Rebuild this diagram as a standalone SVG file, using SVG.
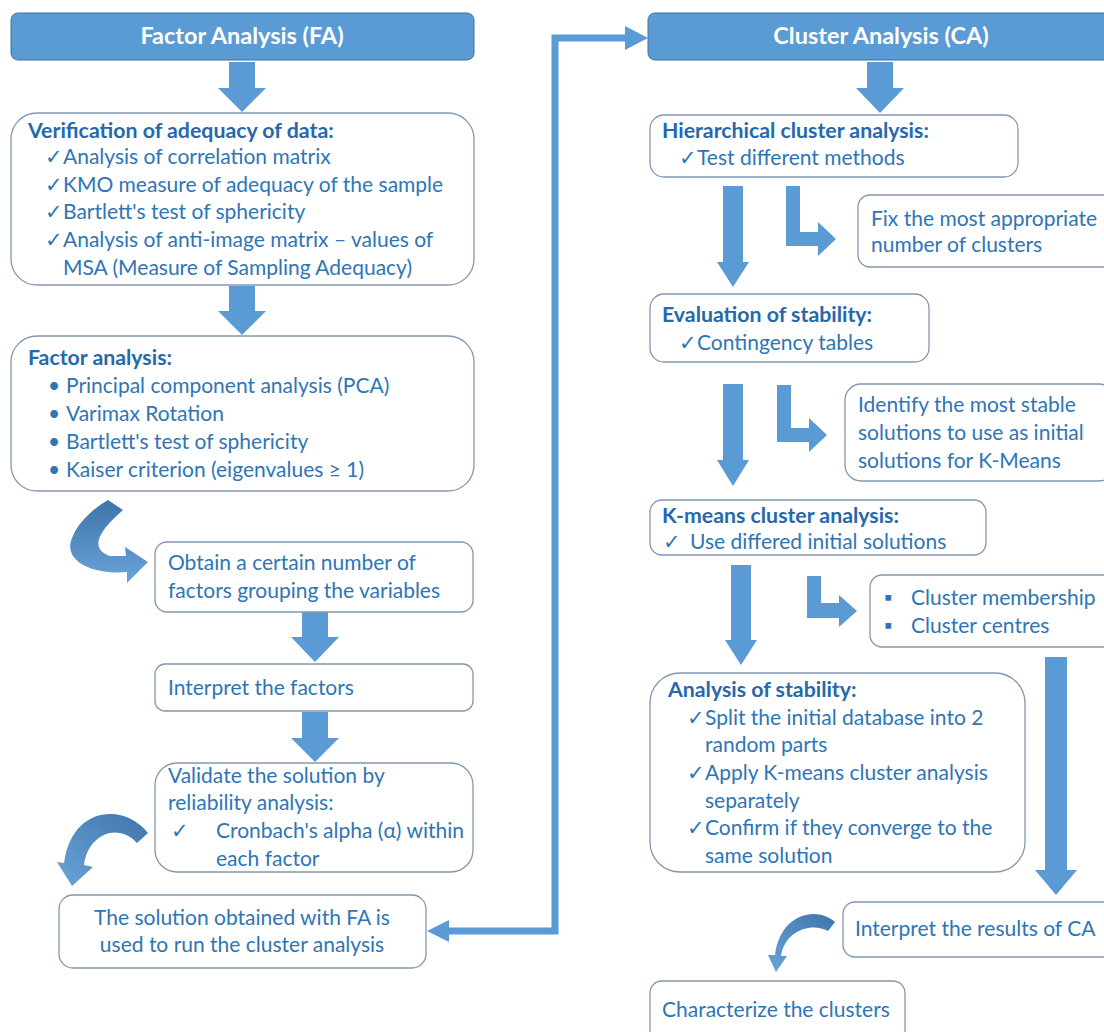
<svg xmlns="http://www.w3.org/2000/svg" width="1104" height="1032" viewBox="0 0 1104 1032">
<defs>
<style>
.hdr{fill:#5B9BD5;stroke:#41719C;stroke-width:1}
.hdt{font-family:Lato,'Open Sans',sans-serif;font-weight:bold;font-size:23.5px;fill:#fff;text-anchor:middle}
.box{fill:#fff;stroke:#8497B0;stroke-width:1.3}
.t{font-family:Lato,'DejaVu Sans',sans-serif;font-size:21px;fill:#2E75B6}
.b{font-weight:bold;fill:#2568AC;font-size:21.3px}
.arr{fill:#5B9BD5;stroke:none}
.ln{fill:none;stroke:#5B9BD5;stroke-width:7}
</style>
<linearGradient id="cg" x1="0" y1="0" x2="0" y2="1">
<stop offset="0" stop-color="#3E75AA"/>
<stop offset="1" stop-color="#6AA4DA"/>
</linearGradient>
<linearGradient id="cg2" x1="1" y1="0" x2="0" y2="1">
<stop offset="0" stop-color="#3E75AA"/>
<stop offset="1" stop-color="#6AA4DA"/>
</linearGradient>
</defs>

<g id="connectors">
<path class="arr" d="M229,62 H255 V88 H266 L242,112 L218,88 H229 Z"/>
<path class="arr" d="M229,286 H255 V311 H266 L242,335 L218,311 H229 Z"/>
<path class="arr" d="M302,612 H328 V637 H339 L315,662 L291,637 H302 Z"/>
<path class="arr" d="M302,712 H328 V738 H339 L315,762 L291,738 H302 Z"/>
<path class="arr" d="M867,62 H893 V88 H904 L880,113 L856,88 H867 Z"/>
<path class="arr" d="M723,186 H743 V262 H749 L733,287 L717,262 H723 Z"/>
<path class="arr" d="M723,384 H743 V460 H749 L733,486 L717,460 H723 Z"/>
<path class="arr" d="M731,565 H751 V640 H757 L741,665 L725,640 H731 Z"/>
<path class="arr" d="M1045,657 H1067 V870 H1077 L1056,895 L1035,870 H1045 Z"/>
<path class="arr" d="M786,186 H800 V232 H818 V222 L836,239 L818,256 V246 H786 Z"/>
<path class="arr" d="M777,385 H791 V428 H809 V418 L827,435 L809,452 V442 H777 Z"/>
<path class="arr" d="M807,576 H821 V603 H839 V595 L857,611 L839,627 V618 H807 Z"/>
<path class="ln" d="M449,931 H555 V38 H626"/>
<path class="arr" d="M427,931 L449,920 V942 Z"/>
<path class="arr" d="M648,38 L625,26 V50 Z"/>
<path fill="url(#cg)" d="M108,500 L123,510 C100,530 88,548 110,556 L126,556 L125,547 L148,562 L127,583 L127,572 C95,575 62,562 72,538 C78,522 94,508 108,500 Z"/>
<path fill="url(#cg2)" d="M148,833 C125,803 72,805 64,863 L57,862 L72,886 L93,867 L84,865 C88,834 118,822 137,843 Z"/>
<path fill="url(#cg2)" d="M835,922 C815,905 780,915 775,955 L768,955 L776,972 L787,956 L781,956 C785,930 812,922 828,931 Z"/>
</g>

<g id="fa-header">
<rect class="hdr" x="11" y="13" width="463" height="47" rx="7"/>
<text class="hdt" x="242" y="44">Factor Analysis (FA)</text>
</g>

<g id="ca-header">
<rect class="hdr" x="648" y="13" width="470" height="47" rx="7"/>
<text class="hdt" x="881" y="44">Cluster Analysis (CA)</text>
</g>

<g id="verification">
<rect class="box" x="11" y="113" width="463" height="172" rx="26"/>
<text class="t b" x="28" y="138">Verification of adequacy of data:</text>
<text class="t" x="45" y="164">✓<tspan x="63">Analysis of correlation matrix</tspan></text>
<text class="t" x="45" y="192">✓<tspan x="63">KMO measure of adequacy of the sample</tspan></text>
<text class="t" x="45" y="219">✓<tspan x="63">Bartlett's test of sphericity</tspan></text>
<text class="t" x="45" y="247">✓<tspan x="63">Analysis of anti-image matrix – values of</tspan></text>
<text class="t" x="63" y="275">MSA (Measure of Sampling Adequacy)</text>
</g>

<g id="factor-analysis">
<rect class="box" x="11" y="336" width="463" height="155" rx="26"/>
<text class="t b" x="28" y="365">Factor analysis:</text>
<text class="t" x="48" y="393">•<tspan x="66">Principal component analysis (PCA)</tspan></text>
<text class="t" x="48" y="421">•<tspan x="66">Varimax Rotation</tspan></text>
<text class="t" x="48" y="449">•<tspan x="66">Bartlett's test of sphericity</tspan></text>
<text class="t" x="48" y="477">•<tspan x="66">Kaiser criterion (eigenvalues ≥ 1)</tspan></text>
</g>

<g id="obtain">
<rect class="box" x="155" y="542" width="318" height="70" rx="12"/>
<text class="t" x="168" y="570">Obtain a certain number of</text>
<text class="t" x="168" y="598">factors grouping the variables</text>
</g>

<g id="interpret-factors">
<rect class="box" x="155" y="664" width="318" height="47" rx="10"/>
<text class="t" x="168" y="695">Interpret the factors</text>
</g>

<g id="validate">
<rect class="box" x="155" y="763" width="318" height="109" rx="22"/>
<text class="t" x="168" y="783">Validate the solution by</text>
<text class="t" x="168" y="810">reliability analysis:</text>
<text class="t" x="171" y="838">✓<tspan x="216">Cronbach's alpha (α) within</tspan></text>
<text class="t" x="216" y="866">each factor</text>
</g>

<g id="solution">
<rect class="box" x="59" y="895" width="367" height="73" rx="14"/>
<text class="t" x="242" y="925" text-anchor="middle">The solution obtained with FA is</text>
<text class="t" x="242" y="952" text-anchor="middle">used to run the cluster analysis</text>
</g>

<g id="hierarchical">
<rect class="box" x="650" y="115" width="368" height="62" rx="14"/>
<text class="t b" x="662" y="138">Hierarchical cluster analysis:</text>
<text class="t" x="679" y="165">✓<tspan x="697">Test different methods</tspan></text>
</g>

<g id="fix-clusters">
<rect class="box" x="858" y="195" width="260" height="72" rx="12"/>
<text class="t" x="871" y="226">Fix the most appropriate</text>
<text class="t" x="871" y="252">number of clusters</text>
</g>

<g id="evaluation">
<rect class="box" x="650" y="294" width="279" height="68" rx="14"/>
<text class="t b" x="662" y="322">Evaluation of stability:</text>
<text class="t" x="679" y="350">✓<tspan x="697">Contingency tables</tspan></text>
</g>

<g id="identify">
<rect class="box" x="845" y="384" width="270" height="97" rx="16"/>
<text class="t" x="858" y="412">Identify the most stable</text>
<text class="t" x="858" y="440">solutions to use as initial</text>
<text class="t" x="858" y="468">solutions for K-Means</text>
</g>

<g id="kmeans">
<rect class="box" x="650" y="500" width="336" height="55" rx="12"/>
<text class="t b" x="662" y="523">K-means cluster analysis:</text>
<text class="t" x="663" y="549">✓<tspan x="690">Use differed initial solutions</tspan></text>
</g>

<g id="membership">
<rect class="box" x="870" y="575" width="250" height="72" rx="12"/>
<text class="t" x="884" y="605">▪<tspan x="911">Cluster membership</tspan></text>
<text class="t" x="884" y="633">▪<tspan x="911">Cluster centres</tspan></text>
</g>

<g id="analysis-stability">
<rect class="box" x="650" y="673" width="375" height="199" rx="30"/>
<text class="t b" x="668" y="697">Analysis of stability:</text>
<text class="t" x="687" y="725">✓<tspan x="705">Split the initial database into 2</tspan></text>
<text class="t" x="705" y="752">random parts</text>
<text class="t" x="687" y="780">✓<tspan x="705">Apply K-means cluster analysis</tspan></text>
<text class="t" x="705" y="808">separately</text>
<text class="t" x="687" y="835">✓<tspan x="705">Confirm if they converge to the</tspan></text>
<text class="t" x="705" y="863">same solution</text>
</g>

<g id="interpret-ca">
<rect class="box" x="843" y="902" width="275" height="55" rx="12"/>
<text class="t" x="855" y="936">Interpret the results of CA</text>
</g>

<g id="characterize">
<rect class="box" x="650" y="981" width="255" height="70" rx="12"/>
<text class="t" x="662" y="1017">Characterize the clusters</text>
</g>
</svg>
